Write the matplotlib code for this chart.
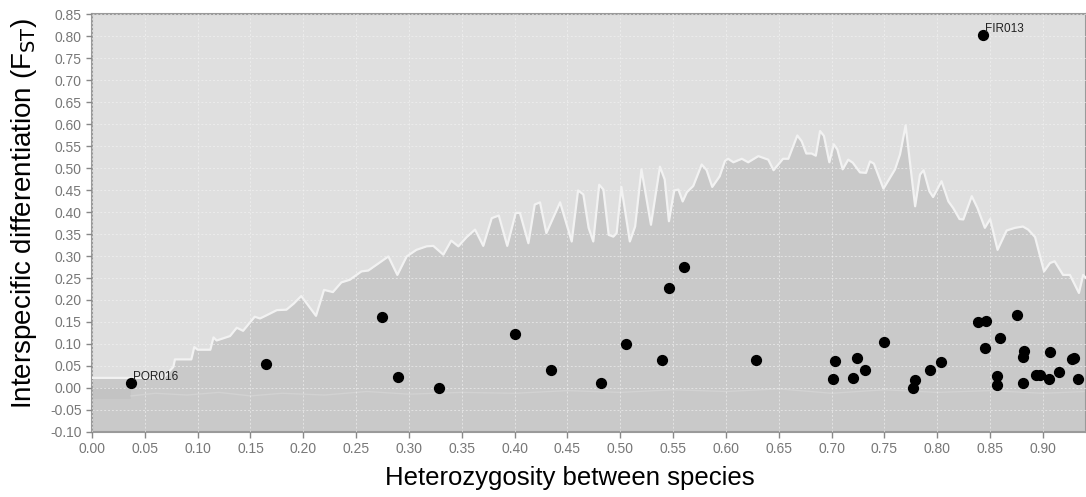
import numpy as np
import matplotlib
matplotlib.use("Agg")
import matplotlib.pyplot as plt

plt.rcParams['font.family'] = ['Liberation Sans', 'DejaVu Sans']

# upper envelope of simulated FST
env_x = [0.0, 0.0675, 0.077, 0.0785, 0.094, 0.0968, 0.100, 0.112, 0.115, 0.118,
         0.1306, 0.137, 0.143, 0.154, 0.159, 0.165, 0.175, 0.184, 0.191, 0.198,
         0.212, 0.2196, 0.228, 0.236, 0.244, 0.255, 0.2615, 0.2805, 0.289, 0.2978,
         0.307, 0.3167, 0.323, 0.3325, 0.340, 0.3467, 0.3546, 0.3625, 0.3703, 0.3783,
         0.385, 0.393, 0.401, 0.405, 0.413, 0.419, 0.424, 0.430, 0.443, 0.454,
         0.460, 0.465, 0.470, 0.4744, 0.480, 0.484, 0.489, 0.4934, 0.4965, 0.501,
         0.509, 0.514, 0.520, 0.529, 0.5375, 0.542, 0.546, 0.551, 0.555, 0.559,
         0.563, 0.569, 0.577, 0.5817, 0.587, 0.594, 0.599, 0.602, 0.607, 0.615,
         0.621, 0.6306, 0.640, 0.645, 0.654, 0.659, 0.6675, 0.6716, 0.676, 0.681,
         0.685, 0.689, 0.6927, 0.6978, 0.702, 0.7054, 0.7104, 0.7157, 0.720, 0.7268,
         0.7325, 0.7363, 0.740, 0.749, 0.760, 0.7647, 0.770, 0.774, 0.779, 0.7836,
         0.787, 0.7925, 0.796, 0.804, 0.8105, 0.815, 0.821, 0.8246, 0.8326, 0.838,
         0.845, 0.850, 0.857, 0.8656, 0.8735, 0.881, 0.886, 0.8925, 0.901, 0.9066,
         0.911, 0.919, 0.9255, 0.934, 0.938, 0.9407]
env_hi = [0.023, 0.023, 0.048, 0.065, 0.065, 0.093, 0.087, 0.087, 0.115, 0.108,
          0.118, 0.137, 0.130, 0.162, 0.158, 0.165, 0.177, 0.178, 0.192, 0.209,
          0.164, 0.223, 0.218, 0.240, 0.246, 0.265, 0.267, 0.299, 0.257, 0.299,
          0.314, 0.322, 0.323, 0.303, 0.335, 0.322, 0.343, 0.360, 0.323, 0.386,
          0.392, 0.323, 0.398, 0.398, 0.329, 0.417, 0.422, 0.352, 0.422, 0.333,
          0.449, 0.440, 0.364, 0.333, 0.462, 0.451, 0.348, 0.344, 0.352, 0.457,
          0.333, 0.367, 0.497, 0.371, 0.503, 0.474, 0.379, 0.449, 0.451, 0.424,
          0.445, 0.459, 0.508, 0.495, 0.457, 0.481, 0.516, 0.521, 0.513, 0.521,
          0.513, 0.527, 0.519, 0.495, 0.521, 0.521, 0.574, 0.561, 0.533, 0.533,
          0.528, 0.584, 0.573, 0.513, 0.554, 0.542, 0.497, 0.519, 0.512, 0.490,
          0.489, 0.515, 0.510, 0.453, 0.497, 0.531, 0.597, 0.516, 0.413, 0.485,
          0.495, 0.447, 0.434, 0.470, 0.424, 0.409, 0.384, 0.383, 0.436, 0.409,
          0.364, 0.384, 0.314, 0.358, 0.364, 0.367, 0.360, 0.343, 0.265, 0.284,
          0.288, 0.257, 0.257, 0.216, 0.257, 0.250]

# lower envelope (faint line near zero)
low_x = [0.037, 0.06, 0.09, 0.12, 0.15, 0.18, 0.22, 0.26, 0.30, 0.35, 0.40, 0.45,
         0.50, 0.55, 0.60, 0.65, 0.70, 0.75, 0.80, 0.85, 0.90, 0.9407]
low_y = [-0.018, -0.012, -0.016, -0.010, -0.018, -0.012, -0.016, -0.008, -0.014, -0.010,
         -0.012, -0.006, -0.010, -0.004, -0.008, -0.002, -0.012, -0.004, -0.010, -0.006,
         -0.012, -0.008]

# observed loci
het = [0.0369, 0.1647, 0.274, 0.290, 0.3284, 0.4006, 0.4344, 0.482, 0.505, 0.5397,
       0.5457, 0.5605, 0.628, 0.703, 0.7016, 0.7237, 0.7205, 0.732, 0.750, 0.7786,
       0.7773, 0.7928, 0.8035, 0.8385, 0.8458, 0.8448, 0.8435, 0.875, 0.8593, 0.8568,
       0.8568, 0.882, 0.8814, 0.8808, 0.8934, 0.8972, 0.9066, 0.906, 0.9155, 0.9272,
       0.9293, 0.9334]
fst = [0.012, 0.0554, 0.1616, 0.025, 0.000, 0.1227, 0.0406, 0.0117, 0.100, 0.0627,
       0.2276, 0.274, 0.064, 0.0605, 0.020, 0.0687, 0.023, 0.0406, 0.1044, 0.0178,
       0.001, 0.0406, 0.0595, 0.1507, 0.153, 0.0908, 0.802, 0.165, 0.1136, 0.027,
       0.0057, 0.0846, 0.0696, 0.0116, 0.0285, 0.030, 0.0817, 0.0194, 0.0367, 0.0664,
       0.0687, 0.0194]
labels = {"POR016": (0.0369, 0.012), "FIR013": (0.8435, 0.802)}

fig = plt.figure(figsize=(10.86, 4.97), dpi=100)
ax = fig.add_axes([0.0847, 0.1308, 0.9153, 0.8410])
ax.set_facecolor('#dfdfdf')

ax.fill_between(env_x, -0.10, env_hi, color='#c9c9c9', lw=0, zorder=1)
ax.plot(env_x, env_hi, color='#f2f2f2', lw=1.6, zorder=3)
ax.fill_between([0.0, 0.037], -0.025, 0.0, color='#c3c3c3', lw=0, zorder=1.5)
ax.plot(low_x, low_y, color='#d2d2d2', lw=1.0, zorder=2)

ax.scatter(het, fst, s=50, color='black', zorder=5)
for name, (lx, ly) in labels.items():
    ax.text(lx + 0.002, ly + 0.006, name, fontsize=8.5, color='#222222', zorder=6)

ax.set_xlim(0, 0.9407)
ax.set_ylim(-0.10, 0.85)
ax.set_xticks(np.arange(0, 0.91, 0.05))
ax.set_yticks(np.arange(-0.10, 0.851, 0.05))
ax.set_xticklabels(['%.2f' % v for v in np.arange(0, 0.91, 0.05)])
ax.set_yticklabels(['%.2f' % v for v in np.arange(-0.10, 0.851, 0.05)])
ax.grid(True, color='#f4f4f4', lw=0.7, ls=(0, (2, 2)), alpha=0.6, zorder=2.5)
ax.set_axisbelow(False)
ax.tick_params(colors='#888888', labelcolor='#777777', labelsize=10, length=4, width=1)
for s in ax.spines.values():
    s.set_color('#9a9a9a')
    s.set_linewidth(1.5)

fig.text(0.525, 0.038, 'Heterozygosity between species', ha='center', va='center', fontsize=18.5)
fig.text(0.022, 0.57, 'Interspecific differentiation (F$_{\\rm ST}$)', ha='center', va='center',
         rotation=90, fontsize=20)

fig.savefig('out.png', dpi=100)
